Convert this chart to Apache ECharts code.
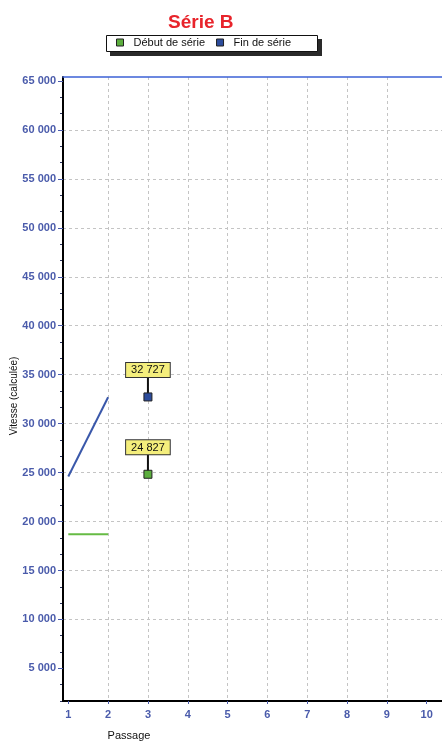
<!DOCTYPE html>
<html>
<head>
<meta charset="utf-8">
<script src="https://cdn.jsdelivr.net/npm/echarts@6/dist/echarts.min.js"></script>
<style>
html,body{margin:0;padding:0;background:#fff;}
#chart{width:442px;height:747px;}
</style>
</head>
<body>
<div id="chart"></div>
<script>
// ---- data ----
const titleText = 'Série B';
const seriesNames = ['Début de série', 'Fin de série'];
const lineX = [1, 2];
const debutLineValues = [18700, 18700];
const finLineValues = [24600, 32700];
const pointX = 3;
const debutPointValue = 24827;
const finPointValue = 32727;
const xTickValues = [1, 2, 3, 4, 5, 6, 7, 8, 9, 10];
const yTickValues = [5000, 10000, 15000, 20000, 25000, 30000, 35000, 40000, 45000, 50000, 55000, 60000, 65000];
const xName = 'Passage';
const yName = 'Vitesse (calculée)';

// ---- style ----
const FONT = "'Liberation Sans', Arial, sans-serif";
const axisBlue = '#4a5bab';
const greenLine = '#66bb44';
const blueLine = '#3a58aa';
const greenFill = '#5cae3e';
const blueFill = '#2c4c9c';
const yMin = 5000 / 3, yMax = 65410;
const xMin = 0.867, xMax = 10.385;

function fmt(v) {
  return String(Math.round(v)).replace(/\B(?=(\d{3})+(?!\d))/g, ' ');
}
// minor tick positions (thirds between labelled ticks)
const yMinorValues = [];
for (let k = 1; k * 5000 / 3 < yMax; k++) {
  if (k % 3 !== 0) yMinorValues.push(k * 5000 / 3);
}

const chart = echarts.init(document.getElementById('chart'), null, {renderer: 'canvas'});

function pointRenderer(fillColor) {
  return function (params, api) {
    const p = api.coord([api.value(0), api.value(1)]);
    return {
      type: 'group',
      children: [
        {type: 'line', shape: {x1: p[0], y1: p[1], x2: p[0], y2: p[1] - 20},
         style: {stroke: '#111', lineWidth: 2}},
        {type: 'rect', shape: {x: p[0] - 4, y: p[1] - 4, width: 8, height: 8},
         style: {fill: fillColor, stroke: '#222', lineWidth: 1}},
        {type: 'text', x: p[0], y: p[1] - 20,
         style: {text: fmt(api.value(1)), fill: '#111', font: '11px ' + FONT,
                 align: 'center', verticalAlign: 'bottom',
                 backgroundColor: '#f4ee7c', borderColor: '#333', borderWidth: 1,
                 padding: [2, 5, 1, 5]}}
      ]
    };
  };
}

const option = {
  animation: false,
  backgroundColor: '#fff',
  title: {
    text: titleText, left: 163, top: 8,
    textStyle: {color: '#e8242b', fontSize: 19, fontWeight: 'bold', fontFamily: FONT}
  },
  graphic: [
    {type: 'rect', shape: {x: 110, y: 39, width: 212, height: 17}, style: {fill: '#2a2a2a'}, z: 0},
    {type: 'rect', shape: {x: 106.5, y: 35.5, width: 211, height: 16}, style: {fill: '#fff', stroke: '#111', lineWidth: 1}, z: 1},
    {type: 'text', x: 14, y: 396, rotation: Math.PI / 2,
     style: {text: yName, fill: '#111', font: '10px ' + FONT, align: 'center', verticalAlign: 'middle'}},
    {type: 'text', x: 129, y: 736,
     style: {text: xName, fill: '#111', font: '11px ' + FONT, align: 'center', verticalAlign: 'middle'}}
  ],
  legend: {
    left: 116, top: 37, padding: 0,
    itemWidth: 7, itemHeight: 7, itemGap: 11,
    textStyle: {fontSize: 11, color: '#111', fontFamily: FONT, padding: [0, 0, 0, 5]},
    data: [
      {name: seriesNames[0], icon: 'rect', itemStyle: {color: greenFill, borderColor: '#222', borderWidth: 1}},
      {name: seriesNames[1], icon: 'rect', itemStyle: {color: blueFill, borderColor: '#222', borderWidth: 1}}
    ]
  },
  grid: {
    left: 63, right: 0, top: 77, bottom: 46, show: false
  },
  xAxis: [
    {
      type: 'value', min: xMin, max: xMax, position: 'bottom', z: 3,
      axisLine: {show: true, lineStyle: {color: '#000', width: 2}},
      axisTick: {show: true, length: 3, customValues: xTickValues, lineStyle: {color: axisBlue}},
      axisLabel: {customValues: xTickValues, color: axisBlue, fontSize: 11, fontWeight: 'bold',
                  fontFamily: FONT, margin: 8, formatter: v => String(v)},
      splitLine: {show: true, showMinLine: false, showMaxLine: false,
                  lineStyle: {color: '#c4c4c4', type: [3, 3], width: 1}}
    },
    {
      type: 'value', min: xMin, max: xMax, position: 'top', z: 4,
      axisLine: {show: true, lineStyle: {color: '#3d62d6', width: 1.5, opacity: 1}},
      axisTick: {show: false}, axisLabel: {show: false}, splitLine: {show: false}
    }
  ],
  yAxis: [
    {
      type: 'value', min: yMin, max: yMax, position: 'left', z: 3,
      axisLine: {show: true, lineStyle: {color: '#000', width: 2}},
      axisTick: {show: true, length: 5, customValues: yTickValues, lineStyle: {color: axisBlue}},
      axisLabel: {customValues: yTickValues, color: axisBlue, fontSize: 11, fontWeight: 'bold',
                  fontFamily: FONT, margin: 7, formatter: v => fmt(v)},
      splitLine: {show: true, showMinLine: false, showMaxLine: false,
                  lineStyle: {color: '#c4c4c4', type: [3, 3], width: 1}}
    },
    {
      type: 'value', min: yMin, max: yMax, position: 'left', offset: 0, z: 2,
      axisLine: {show: false},
      axisTick: {show: true, length: 3, customValues: yMinorValues, lineStyle: {color: '#2a3360'}},
      axisLabel: {show: false},
      splitLine: {show: false}
    }
  ],
  series: [
    {
      name: seriesNames[0], type: 'line', showSymbol: false, symbol: 'none',
      data: lineX.map((x, i) => [x, debutLineValues[i]]),
      lineStyle: {color: greenLine, width: 2}, itemStyle: {color: greenFill}
    },
    {
      name: seriesNames[1], type: 'line', showSymbol: false, symbol: 'none',
      data: lineX.map((x, i) => [x, finLineValues[i]]),
      lineStyle: {color: blueLine, width: 2}, itemStyle: {color: blueFill}
    },
    {
      name: seriesNames[0], type: 'custom', renderItem: pointRenderer(greenFill),
      data: [[pointX, debutPointValue]], itemStyle: {color: greenFill}, z: 5
    },
    {
      name: seriesNames[1], type: 'custom', renderItem: pointRenderer(blueFill),
      data: [[pointX, finPointValue]], itemStyle: {color: blueFill}, z: 5
    }
  ]
};
chart.setOption(option);
</script>
</body>
</html>
